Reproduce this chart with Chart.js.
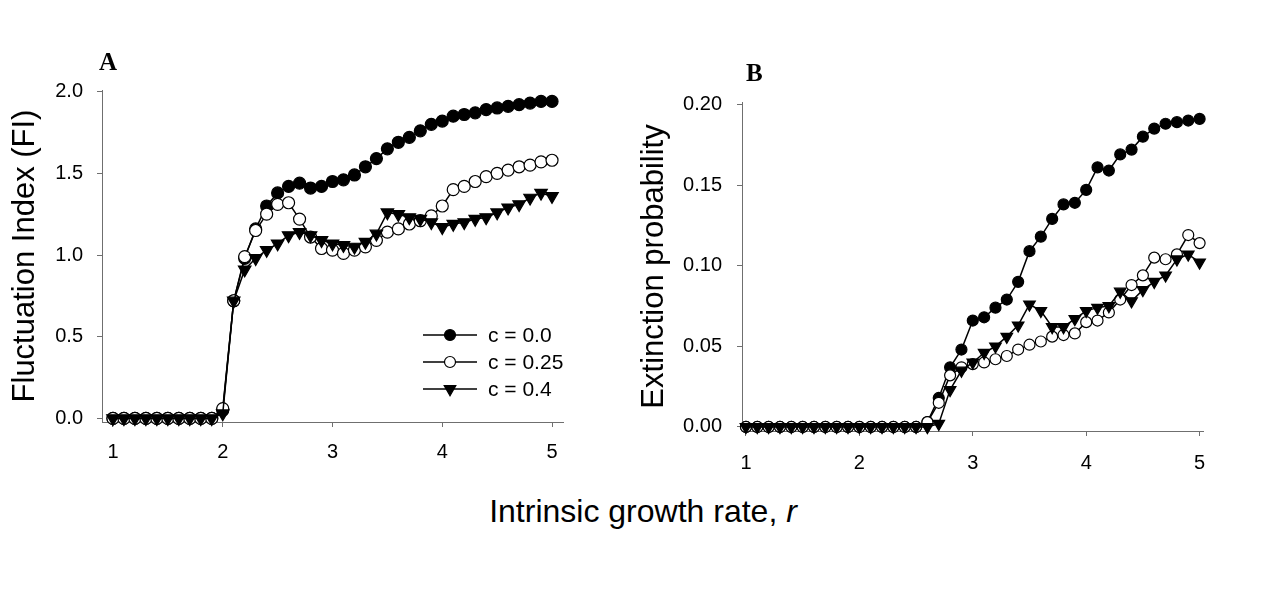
<!DOCTYPE html>
<html>
<head>
<meta charset="utf-8">
<script src="https://cdn.jsdelivr.net/npm/chart.js@4.4.1/dist/chart.umd.min.js"></script>
<style>
    body { margin: 0; background: #fff; }
    #wrap { position: relative; width: 1280px; height: 591px; overflow: hidden; background: #fff; }
    canvas { position: absolute; top: 0; }
    .panel-letter { position: absolute; font: bold 25px "Liberation Serif", "Times New Roman", serif; line-height: 25px; color: #000; }
    #x-title { position: absolute; left: 0; width: 1286px; top: 495px; text-align: center; font: 32px "Liberation Sans", Arial, sans-serif; line-height: 32px; color: #000; }
</style>
</head>
<body>
<div id="wrap">
    <canvas id="chart-a" width="620" height="480" style="left:0"></canvas>
    <canvas id="chart-b" width="660" height="480" style="left:620px"></canvas>
    <div class="panel-letter" style="left:99px; top:49px">A</div>
    <div class="panel-letter" style="left:746px; top:60px">B</div>
    <div id="x-title">Intrinsic growth rate, <i>r</i></div>
</div>
<script>
const rValues = [1.0, 1.1, 1.2, 1.3, 1.4, 1.5, 1.6, 1.7, 1.8, 1.9,
    2.0, 2.1, 2.2, 2.3, 2.4, 2.5, 2.6, 2.7, 2.8, 2.9,
    3.0, 3.1, 3.2, 3.3, 3.4, 3.5, 3.6, 3.7, 3.8, 3.9,
    4.0, 4.1, 4.2, 4.3, 4.4, 4.5, 4.6, 4.7, 4.8, 4.9, 5.0];

// panel A - fluctuation index
const fiC00 = [0, 0, 0, 0, 0, 0, 0, 0, 0, 0,
    0.05, 0.72, 0.98, 1.16, 1.30, 1.38, 1.42, 1.44, 1.41, 1.42,
    1.45, 1.46, 1.49, 1.54, 1.59, 1.65, 1.69, 1.72, 1.76, 1.80,
    1.82, 1.85, 1.86, 1.87, 1.89, 1.90, 1.91, 1.92, 1.93, 1.94, 1.94];
const fiC025 = [0, 0, 0, 0, 0, 0, 0, 0, 0, 0,
    0.06, 0.72, 0.99, 1.15, 1.25, 1.31, 1.32, 1.22, 1.11, 1.04,
    1.03, 1.01, 1.03, 1.05, 1.09, 1.14, 1.16, 1.19, 1.21, 1.24,
    1.30, 1.40, 1.42, 1.45, 1.48, 1.50, 1.52, 1.54, 1.55, 1.57, 1.58];
const fiC04 = [0, 0, 0, 0, 0, 0, 0, 0, 0, 0,
    0.03, 0.72, 0.91, 0.98, 1.03, 1.07, 1.12, 1.14, 1.12, 1.09,
    1.07, 1.06, 1.05, 1.08, 1.13, 1.26, 1.25, 1.23, 1.22, 1.20,
    1.17, 1.19, 1.20, 1.22, 1.23, 1.26, 1.29, 1.31, 1.35, 1.38, 1.36];

// panel B - extinction probability
const exC00 = [0, 0, 0, 0, 0, 0, 0, 0, 0, 0,
    0, 0, 0, 0, 0, 0, 0.003, 0.018, 0.037, 0.048,
    0.066, 0.068, 0.074, 0.079, 0.090, 0.109, 0.118, 0.129, 0.138, 0.139,
    0.147, 0.161, 0.159, 0.169, 0.172, 0.180, 0.185, 0.188, 0.189, 0.190, 0.191];
const exC025 = [0, 0, 0, 0, 0, 0, 0, 0, 0, 0,
    0, 0, 0, 0, 0, 0, 0.003, 0.015, 0.032, 0.037,
    0.039, 0.040, 0.042, 0.044, 0.048, 0.051, 0.053, 0.056, 0.057, 0.058,
    0.065, 0.066, 0.071, 0.079, 0.088, 0.094, 0.105, 0.104, 0.107, 0.119, 0.114];
const exC04 = [0, 0, 0, 0, 0, 0, 0, 0, 0, 0,
    0, 0, 0, 0, 0, 0, 0, 0.002, 0.023, 0.035,
    0.040, 0.046, 0.050, 0.056, 0.063, 0.076, 0.072, 0.062, 0.062, 0.067,
    0.072, 0.074, 0.075, 0.084, 0.078, 0.085, 0.090, 0.094, 0.104, 0.107, 0.102];

const seriesLabels = ["c = 0.0", "c = 0.25", "c = 0.4"];
const xTicks = [1, 2, 3, 4, 5];
const fiTicks = [0, 0.5, 1.0, 1.5, 2.0];
const exTicks = [0, 0.05, 0.10, 0.15, 0.20];

const FONT = '"Liberation Sans", Arial, sans-serif';
const AXIS_COLOR = "#6f6f6f";

const styles = [
    {pointStyle: "circle", pointBackgroundColor: "#000", pointRotation: 0, order: 3},
    {pointStyle: "circle", pointBackgroundColor: "#fff", pointRotation: 0, order: 2},
    {pointStyle: "triangle", pointBackgroundColor: "#000", pointRotation: 180, order: 1},
];

function makeDataset(label, values, style, radius) {
    return {
        label: label,
        data: rValues.map((r, i) => ({x: r, y: values[i]})),
        borderColor: "#000",
        borderWidth: 1.5,
        pointStyle: style.pointStyle,
        pointRadius: style.pointStyle === "circle" ? radius : radius + 1.2,
        pointRotation: style.pointRotation,
        pointBackgroundColor: style.pointBackgroundColor,
        pointBorderColor: "#000",
        pointBorderWidth: 1.2,
        order: style.order,
        clip: false,
        tension: 0,
    };
}

function fixedTicks(values) {
    return (scale) => {
        scale.ticks = values.map(v => ({value: v}));
    };
}

function makeOptions(p) {
    return {
        responsive: false,
        animation: false,
        devicePixelRatio: 1,
        layout: {padding: {top: p.top, right: p.right, left: 0, bottom: 0}},
        plugins: {legend: {display: false}, tooltip: {enabled: false}},
        scales: {
            x: {
                type: "linear",
                min: p.xMin,
                max: p.xMax,
                afterBuildTicks: fixedTicks(xTicks),
                afterFit: (scale) => { scale.height = p.xHeight; },
                grid: {drawOnChartArea: false, tickLength: 5, color: AXIS_COLOR},
                border: {color: AXIS_COLOR, width: 1},
                ticks: {
                    color: "#000",
                    font: {family: FONT, size: 20},
                    padding: p.xPad,
                    maxRotation: 0,
                    callback: (v) => String(v),
                },
            },
            y: {
                type: "linear",
                min: p.yMin,
                max: p.yMax,
                afterBuildTicks: fixedTicks(p.yTicks),
                afterFit: (scale) => { scale.width = p.yWidth; },
                grid: {drawOnChartArea: false, tickLength: 5, color: AXIS_COLOR},
                border: {color: AXIS_COLOR, width: 1},
                ticks: {
                    color: "#000",
                    font: {family: FONT, size: 20},
                    padding: p.yPad,
                    callback: (v) => Number(v).toFixed(p.decimals),
                },
                title: {
                    display: true,
                    text: p.yTitle,
                    color: "#000",
                    font: {family: FONT, size: 31},
                    padding: {top: p.titlePad, bottom: 0},
                },
            },
        },
    };
}

// legend with line + marker, drawn inside panel A
const legendPlugin = {
    id: "lineLegend",
    afterDatasetsDraw(chart) {
        const ctx = chart.ctx;
        const rows = [335, 362, 389];
        ctx.save();
        rows.forEach((y, i) => {
            const st = styles[i];
            ctx.strokeStyle = "#000";
            ctx.lineWidth = 1.5;
            ctx.beginPath();
            ctx.moveTo(423, y);
            ctx.lineTo(477, y);
            ctx.stroke();
            ctx.fillStyle = st.pointBackgroundColor;
            ctx.lineWidth = 1.2;
            Chart.helpers.drawPoint(ctx, {
                pointStyle: st.pointStyle,
                radius: st.pointStyle === "circle" ? 5.5 : 6.7,
                rotation: st.pointRotation,
                borderWidth: 1.2,
            }, 450, y);
            ctx.fillStyle = "#000";
            ctx.font = "21px " + FONT;
            ctx.textBaseline = "middle";
            ctx.textAlign = "left";
            ctx.fillText(seriesLabels[i], 488, y + 1);
        });
        ctx.restore();
    },
};

new Chart(document.getElementById("chart-a"), {
    type: "line",
    data: {
        datasets: [
            makeDataset(seriesLabels[0], fiC00, styles[0], 6),
            makeDataset(seriesLabels[1], fiC025, styles[1], 6),
            makeDataset(seriesLabels[2], fiC04, styles[2], 6),
        ],
    },
    options: makeOptions({
        top: 90, right: 57, xMin: 0.9, xMax: 5.1, xHeight: 58, xPad: 13,
        yMin: -0.022, yMax: 2.01, yTicks: fiTicks, yWidth: 102, yPad: 14,
        decimals: 1, yTitle: "Fluctuation Index (FI)", titlePad: 7,
    }),
    plugins: [legendPlugin],
});

new Chart(document.getElementById("chart-b"), {
    type: "line",
    data: {
        datasets: [
            makeDataset(seriesLabels[0], exC00, styles[0], 5.5),
            makeDataset(seriesLabels[1], exC025, styles[1], 5.5),
            makeDataset(seriesLabels[2], exC04, styles[2], 5.5),
        ],
    },
    options: makeOptions({
        top: 102, right: 77, xMin: 0.965, xMax: 5.03, xHeight: 49, xPad: 15,
        yMin: -0.0025, yMax: 0.2015, yTicks: exTicks, yWidth: 122, yPad: 15,
        decimals: 2, yTitle: "Extinction probability", titlePad: 16,
    }),
});
</script>
</body>
</html>
